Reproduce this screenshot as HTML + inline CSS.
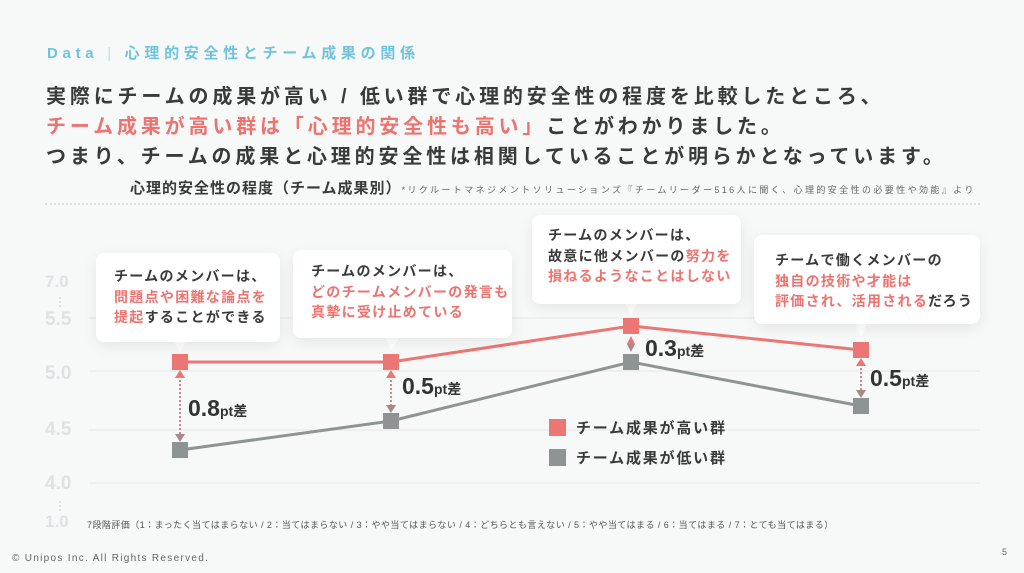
<!DOCTYPE html>
<html><head><meta charset="utf-8"><style>
*{margin:0;padding:0;box-sizing:border-box}
body{width:1024px;height:573px;overflow:hidden;background:#f7f8f8;font-family:"Liberation Sans","Noto Sans CJK JP",sans-serif;position:relative;color:#3a3a3a}
.a{position:absolute;white-space:nowrap}
.r{color:#ec7370}
.h{font-size:20px;font-weight:bold;letter-spacing:3.85px;left:46px}
.box{position:absolute;background:#fff;border-radius:8px;box-shadow:0 4px 14px rgba(0,0,0,0.08);font-size:14px;font-weight:bold;line-height:20.5px;padding:13px 0 0 18px;letter-spacing:1.3px}
.yl{position:absolute;font-size:19px;font-weight:bold;color:#dfe2e3;left:45px}
.d{font-size:23px;font-weight:bold;color:#333}
.d small{font-size:14px}
</style></head><body>
<div class="a" style="left:47px;top:42px;font-size:15px;color:#6ec4dd;letter-spacing:4.7px;font-weight:bold">Data <span style="font-weight:normal;color:#bfe3ee">|</span> 心理的安全性とチーム成果の関係</div>
<div class="a h" style="top:80px">実際にチームの成果が高い / 低い群で心理的安全性の程度を比較したところ、</div>
<div class="a h r" style="top:110px">チーム成果が高い群は「心理的安全性も高い」<span style="color:#3a3a3a">ことがわかりました。</span></div>
<div class="a h" style="top:140px">つまり、チームの成果と心理的安全性は相関していることが明らかとなっています。</div>
<div class="a" style="left:130px;top:177px;font-size:15px;font-weight:bold;letter-spacing:1px">心理的安全性の程度（チーム成果別）<span style="font-size:9px;font-weight:normal;color:#666;letter-spacing:2.4px">*リクルートマネジメントソリューションズ『チームリーダー516人に聞く、心理的安全性の必要性や効能』より</span></div>
<div class="a" style="left:45px;top:203px;width:935px;border-top:2px dotted #dcdede"></div>

<svg class="a" style="left:0;top:0" width="1024" height="573">
<g stroke="#e6e8e8" stroke-width="1">
<line x1="89" y1="318" x2="980" y2="318"/><line x1="89" y1="371" x2="980" y2="371"/>
<line x1="89" y1="430" x2="980" y2="430"/><line x1="89" y1="483" x2="980" y2="483"/>
</g>
<g stroke="#dfe2e3" stroke-width="2" stroke-dasharray="2 2"><line x1="60" y1="297" x2="60" y2="308"/><line x1="60" y1="501" x2="60" y2="512"/></g>
<polyline points="180,450 391,421 631,362 861,406" fill="none" stroke="#8e9494" stroke-width="3"/>
<polyline points="180,362 391,362 631,326 861,350" fill="none" stroke="#ec7673" stroke-width="3"/>
<g stroke="#c98a8a" stroke-width="2" stroke-dasharray="2 2">
<line x1="180" y1="376" x2="180" y2="436"/><line x1="391" y1="376" x2="391" y2="407"/><line x1="861" y1="364" x2="861" y2="392"/>
</g>
<g fill="#ec7673"><polygon points="175,378 180,370 185,378"/><polygon points="386,378 391,370 396,378"/><polygon points="856,366 861,358 866,366"/><polygon points="627,344 631,336 635,344"/></g>
<g fill="#a88888"><polygon points="175,434 180,442 185,434"/><polygon points="386,405 391,413 396,405"/><polygon points="856,390 861,398 866,390"/><polygon points="627,344 631,352 635,344"/></g>
<g fill="#8e9494"><rect x="172" y="442" width="16" height="16"/><rect x="383" y="413" width="16" height="16"/><rect x="623" y="354" width="16" height="16"/><rect x="853" y="398" width="16" height="16"/><rect x="549" y="449" width="17" height="17"/></g>
<g fill="#ec7673"><rect x="172" y="354" width="16" height="16"/><rect x="383" y="354" width="16" height="16"/><rect x="623" y="318" width="16" height="16"/><rect x="853" y="342" width="16" height="16"/><rect x="549" y="419" width="17" height="17"/></g>
<g fill="#fff"><polygon points="174,341 180,352 186,341"/><polygon points="385,337 391,350 400,337"/><polygon points="625,303 631,315 637,303"/><polygon points="855,323 861,338 867,323"/></g>
</svg>
<div class="yl" style="top:272px;font-size:17px">7.0</div>
<div class="yl" style="top:309px">5.5</div>
<div class="yl" style="top:363px">5.0</div>
<div class="yl" style="top:419px">4.5</div>
<div class="yl" style="top:473px">4.0</div>
<div class="yl" style="top:512px;font-size:17px">1.0</div>

<div class="box" style="left:96px;top:253px;width:184px;height:89px">チームのメンバーは、<br><span class="r">問題点や困難な論点を</span><br><span class="r">提起</span>することができる</div>
<div class="box" style="left:293px;top:250px;width:219px;height:88px;padding-top:11px">チームのメンバーは、<br><span class="r">どのチームメンバーの発言も</span><br><span class="r">真摯に受け止めている</span></div>
<div class="box" style="left:532px;top:215px;width:209px;height:89px;padding-left:16px;padding-top:10px">チームのメンバーは、<br>故意に他メンバーの<span class="r">努力を</span><br><span class="r">損ねるようなことはしない</span></div>
<div class="box" style="left:754px;top:235px;width:226px;height:89px;padding-top:15px;padding-left:21px">チームで働くメンバーの<br><span class="r">独自の技術や才能は</span><br><span class="r">評価され、活用される</span>だろう</div>

<div class="a d" style="left:188px;top:395px">0.8<small>pt差</small></div>
<div class="a d" style="left:402px;top:373px">0.5<small>pt差</small></div>
<div class="a d" style="left:645px;top:335px">0.3<small>pt差</small></div>
<div class="a d" style="left:870px;top:365px">0.5<small>pt差</small></div>

<div class="a" style="left:576px;top:417px;font-size:15px;font-weight:bold;letter-spacing:1.8px">チーム成果が高い群</div>
<div class="a" style="left:576px;top:447px;font-size:15px;font-weight:bold;letter-spacing:1.8px">チーム成果が低い群</div>

<div class="a" style="left:87px;top:518px;font-size:9px;color:#555;letter-spacing:0.45px">7段階評価（1：まったく当てはまらない / 2：当てはまらない / 3：やや当てはまらない / 4：どちらとも言えない / 5：やや当てはまる / 6：当てはまる / 7：とても当てはまる）</div>
<div class="a" style="left:12px;top:553px;font-size:10px;color:#666;letter-spacing:1.3px">© Unipos Inc. All Rights Reserved.</div>
<div class="a" style="left:1002px;top:547px;font-size:9px;color:#666">5</div>
</body></html>
